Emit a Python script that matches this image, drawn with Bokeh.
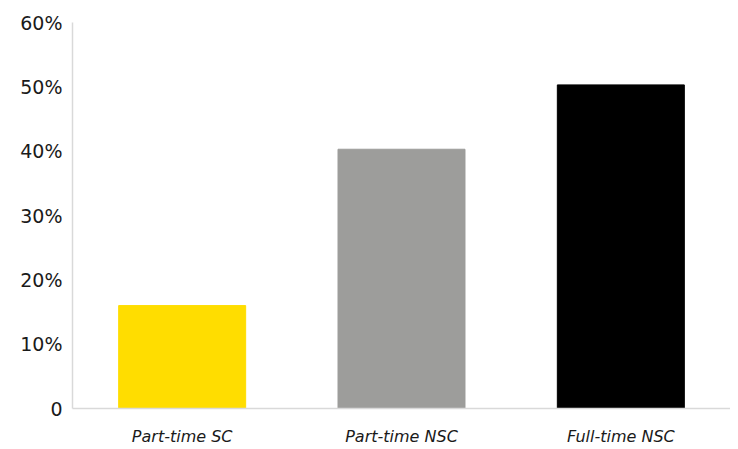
from bokeh.plotting import figure
from bokeh.models import ColumnDataSource, FixedTicker
from bokeh.embed import file_html
from bokeh.resources import INLINE

categories = ["Part-time SC", "Part-time NSC", "Full-time NSC"]
values = [16.0, 40.3, 50.3]
colors = ["#FFDD00", "#9D9D9B", "#000000"]
y_ticks = [0, 10, 20, 30, 40, 50, 60]
y_tick_labels = ["0", "10%", "20%", "30%", "40%", "50%", "60%"]

source = ColumnDataSource(dict(cat=categories, val=values, color=colors))

p = figure(x_range=categories, y_range=(0, 60), width=730, height=449,
           output_backend="svg", toolbar_location=None,
           min_border_left=72, min_border_right=0, min_border_top=22, min_border_bottom=41)
p.vbar(x="cat", top="val", width=0.579, color="color", source=source)

p.outline_line_color = None
p.xgrid.grid_line_color = None
p.ygrid.grid_line_color = None

p.yaxis.ticker = FixedTicker(ticks=y_ticks)
p.yaxis.major_label_overrides = {t: l for t, l in zip(y_ticks, y_tick_labels)}
p.yaxis.major_tick_line_color = None
p.yaxis.minor_tick_line_color = None
p.yaxis.major_tick_out = 0
p.yaxis.major_tick_in = 0
p.yaxis.axis_line_color = "#d9d9d9"
p.yaxis.axis_line_width = 1.5
p.yaxis.major_label_standoff = 10
p.yaxis.major_label_text_font = "DejaVu Sans"
p.yaxis.major_label_text_font_size = "19px"
p.yaxis.major_label_text_color = "#1a1a1a"

p.xaxis.major_tick_line_color = None
p.xaxis.major_tick_out = 0
p.xaxis.major_tick_in = 0
p.xaxis.axis_line_color = "#d9d9d9"
p.xaxis.axis_line_width = 1.5
p.xaxis.major_label_standoff = 18
p.xaxis.major_label_text_font = "DejaVu Sans"
p.xaxis.major_label_text_font_style = "italic"
p.xaxis.major_label_text_font_size = "16px"
p.xaxis.major_label_text_color = "#1a1a1a"

open("out.html", "w").write(file_html(p, INLINE))
